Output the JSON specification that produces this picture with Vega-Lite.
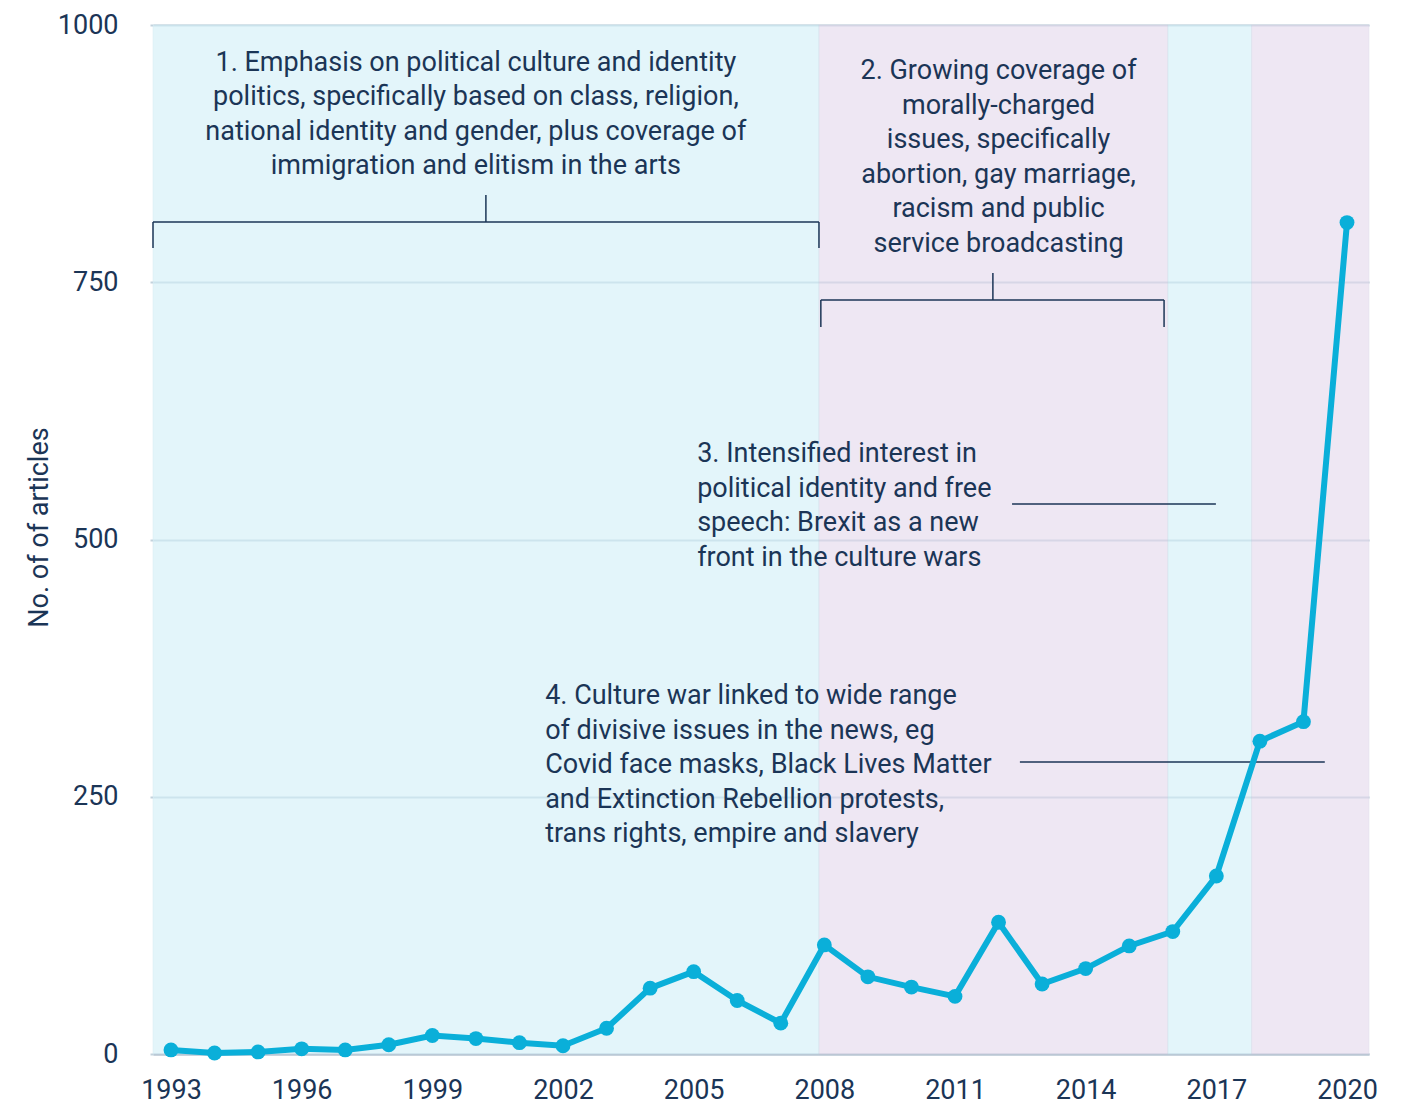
{
  "$schema": "https://vega.github.io/schema/vega-lite/v6.json",
  "width": 1216,
  "height": 1029,
  "autosize": "none",
  "padding": {"left": 153, "top": 25, "right": 37, "bottom": 53},
  "background": "white",
  "config": {
    "font": "Roboto",
    "view": {"stroke": null},
    "axis": {"labelColor": "#1b3556", "titleColor": "#1b3556", "labelFont": "Roboto", "titleFont": "Roboto"}
  },
  "datasets": {
    "series": [
      {"year": 1993, "articles": 4}, {"year": 1994, "articles": 1}, {"year": 1995, "articles": 2},
      {"year": 1996, "articles": 5}, {"year": 1997, "articles": 4}, {"year": 1998, "articles": 9},
      {"year": 1999, "articles": 18}, {"year": 2000, "articles": 15}, {"year": 2001, "articles": 11},
      {"year": 2002, "articles": 8}, {"year": 2003, "articles": 25}, {"year": 2004, "articles": 64},
      {"year": 2005, "articles": 80}, {"year": 2006, "articles": 52}, {"year": 2007, "articles": 30},
      {"year": 2008, "articles": 106}, {"year": 2009, "articles": 75}, {"year": 2010, "articles": 65},
      {"year": 2011, "articles": 56}, {"year": 2012, "articles": 128}, {"year": 2013, "articles": 68},
      {"year": 2014, "articles": 83}, {"year": 2015, "articles": 105}, {"year": 2016, "articles": 119},
      {"year": 2017, "articles": 173}, {"year": 2018, "articles": 304}, {"year": 2019, "articles": 323},
      {"year": 2020, "articles": 808}
    ],
    "bands": [
      {"start": 1992.587, "end": 2007.877, "phase": "a"},
      {"start": 2007.877, "end": 2015.89, "phase": "b"},
      {"start": 2015.89, "end": 2017.81, "phase": "a"},
      {"start": 2017.81, "end": 2020.505, "phase": "b"}
    ],
    "segments": [
      {"x": 1992.587, "x2": 2007.877, "y": 808.5, "y2": 808.5},
      {"x": 1992.587, "x2": 1992.587, "y": 808.5, "y2": 783.3},
      {"x": 2007.877, "x2": 2007.877, "y": 808.5, "y2": 783.3},
      {"x": 2000.23, "x2": 2000.23, "y": 808.5, "y2": 834.8},
      {"x": 2007.92, "x2": 2015.8, "y": 732.7, "y2": 732.7},
      {"x": 2007.92, "x2": 2007.92, "y": 732.7, "y2": 706.5},
      {"x": 2015.8, "x2": 2015.8, "y": 732.7, "y2": 706.5},
      {"x": 2011.87, "x2": 2011.87, "y": 732.7, "y2": 759},
      {"x": 2012.31, "x2": 2016.99, "y": 534.5, "y2": 534.5},
      {"x": 2012.49, "x2": 2019.49, "y": 283.8, "y2": 283.8}
    ],
    "centerNotes": [
      {"x": 2000.0, "y": 955.3, "label": "1. Emphasis on political culture and identity\npolitics, specifically based on class, religion,\nnational identity and gender, plus coverage of\nimmigration and elitism in the arts"},
      {"x": 2012.0, "y": 947.5, "label": "2. Growing coverage of\nmorally-charged\nissues, specifically\nabortion, gay marriage,\nracism and public\nservice broadcasting"}
    ],
    "leftNotes": [
      {"x": 2005.08, "y": 575.3, "label": "3. Intensified interest in\npolitical identity and free\nspeech: Brexit as a new\nfront in the culture wars"},
      {"x": 2001.59, "y": 340.1, "label": "4. Culture war linked to wide range\nof divisive issues in the news, eg\nCovid face masks, Black Lives Matter\nand Extinction Rebellion protests,\ntrans rights, empire and slavery"}
    ]
  },
  "layer": [
    {
      "data": {"name": "bands"},
      "mark": {"type": "rect", "opacity": 0.7, "strokeWidth": 1, "strokeOpacity": 0.5},
      "encoding": {
        "x": {"field": "start", "type": "quantitative", "scale": {"domain": [1992.587, 2020.505], "nice": false, "zero": false},
          "axis": {"values": [1993, 1996, 1999, 2002, 2005, 2008, 2011, 2014, 2017, 2020], "format": "d", "title": null, "grid": false, "ticks": false, "labelPadding": 23, "labelFontSize": 27, "labelFlush": false, "domainColor": "#b7c4d2", "domainWidth": 2}},
        "x2": {"field": "end"},
        "color": {"field": "phase", "type": "nominal", "scale": {"domain": ["a", "b"], "range": ["#d8f2f9", "#e7deef"]}, "legend": null},
        "stroke": {"field": "phase", "type": "nominal", "scale": {"domain": ["a", "b"], "range": ["#c8e6f0", "#d3d3e6"]}, "legend": null}
      }
    },
    {
      "data": {"name": "segments"},
      "mark": {"type": "rule", "color": "#1b3556", "strokeWidth": 1.5},
      "encoding": {
        "x": {"field": "x", "type": "quantitative"},
        "x2": {"field": "x2"},
        "y": {"field": "y", "type": "quantitative"},
        "y2": {"field": "y2"}
      }
    },
    {
      "data": {"name": "series"},
      "mark": {"type": "line", "color": "#0aafd9", "strokeWidth": 6, "point": {"filled": true, "size": 220, "color": "#0aafd9", "opacity": 1}},
      "encoding": {
        "x": {"field": "year", "type": "quantitative"},
        "y": {"field": "articles", "type": "quantitative", "scale": {"domain": [0, 1000], "nice": false},
          "axis": {"values": [0, 250, 500, 750, 1000], "format": "d", "title": "No. of of articles", "titleFontSize": 27, "titleFontWeight": "normal", "titleAngle": -90, "titleX": -106, "titleY": 502, "titleAlign": "center", "titleBaseline": "alphabetic", "labelFontSize": 27, "labelPadding": 32, "tickSize": 3, "tickColor": "#c3d2dc", "tickWidth": 2, "grid": true, "gridColor": "#b4c6d3", "gridWidth": 2, "domain": false}}
      }
    },
    {
      "data": {"name": "centerNotes"},
      "mark": {"type": "text", "align": "center", "baseline": "alphabetic", "fontSize": 27, "lineHeight": 34.5, "color": "#1b3556", "lineBreak": "\n"},
      "encoding": {
        "x": {"field": "x", "type": "quantitative"},
        "y": {"field": "y", "type": "quantitative"},
        "text": {"field": "label"}
      }
    },
    {
      "data": {"name": "leftNotes"},
      "mark": {"type": "text", "align": "left", "baseline": "alphabetic", "fontSize": 27, "lineHeight": 34.5, "color": "#1b3556", "lineBreak": "\n"},
      "encoding": {
        "x": {"field": "x", "type": "quantitative"},
        "y": {"field": "y", "type": "quantitative"},
        "text": {"field": "label"}
      }
    }
  ]
}
